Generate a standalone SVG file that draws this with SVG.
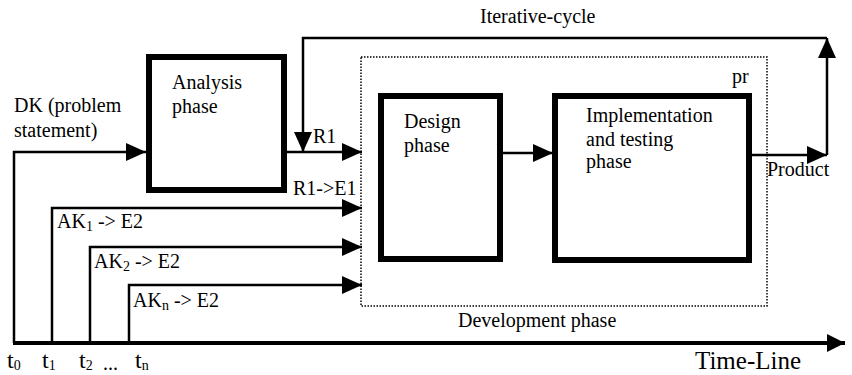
<svg xmlns="http://www.w3.org/2000/svg" width="852" height="375" viewBox="0 0 852 375">
<style>
text{font-family:"Liberation Serif","Times New Roman",serif;font-size:20px;fill:#000}
.box{fill:none;stroke:#000;stroke-width:6}
.dot{fill:none;stroke:#000;stroke-width:1.5;stroke-dasharray:1.5 1.5}
.c{fill:none;stroke:#000;stroke-width:2.5}
.tl{fill:none;stroke:#000;stroke-width:4}
.big{font-size:24px}
.sub{font-size:14px}
</style>
<defs>
<marker id="a" markerUnits="userSpaceOnUse" markerWidth="21" markerHeight="19" refX="20" refY="9" orient="auto" viewBox="0 0 21 19">
<path d="M0,0 L20,9 L0,18 z" fill="#000"/>
</marker>
<marker id="at" markerUnits="userSpaceOnUse" markerWidth="19" markerHeight="19" refX="18" refY="9" orient="auto" viewBox="0 0 19 19">
<path d="M0,0 L18,9 L0,18 z" fill="#000"/>
</marker>
</defs>

<g id="development-phase">
<rect class="dot" x="361" y="57" width="406" height="249"/>
<text x="732" y="83">pr</text>
<text x="458" y="327">Development phase</text>
</g>

<g id="analysis">
<rect class="box" x="149" y="57" width="135" height="133"/>
<text x="172" y="89">Analysis</text>
<text x="172" y="113">phase</text>
</g>

<g id="design">
<rect class="box" x="381" y="96" width="119" height="163"/>
<text x="404" y="128">Design</text>
<text x="404" y="152">phase</text>
</g>

<g id="implementation">
<rect class="box" x="555" y="96" width="194" height="164"/>
<text x="586" y="122">Implementation</text>
<text x="586" y="146">and testing</text>
<text x="586" y="168">phase</text>
</g>

<g id="connectors">
<path class="tl" d="M13,343 H845" marker-end="url(#at)"/>
<path class="c" d="M14,343 V152 H146" marker-end="url(#a)"/>
<path class="c" d="M52,343 V208 H362" marker-end="url(#a)"/>
<path class="c" d="M90,343 V247 H362" marker-end="url(#a)"/>
<path class="c" d="M129,343 V285 H362" marker-end="url(#a)"/>
<path class="c" d="M287,152 H362" marker-end="url(#a)"/>
<path class="c" d="M503,153 H553" marker-end="url(#a)"/>
<path class="c" d="M752,155 H827" marker-end="url(#a)"/>
<path class="c" d="M827,155 V38" marker-end="url(#a)"/>
<path class="c" d="M827,38 H303 V152" marker-end="url(#a)"/>
</g>

<g id="labels">
<text x="480" y="23">Iterative-cycle</text>
<text x="14" y="112">DK (problem</text>
<text x="14" y="137">statement)</text>
<text x="313" y="143">R1</text>
<text x="293" y="195">R1-&gt;E1</text>
<text x="767" y="176">Product</text>
<text x="57" y="228">AK<tspan class="sub" dy="3">1</tspan><tspan dy="-3"> -&gt; E2</tspan></text>
<text x="94" y="268">AK<tspan class="sub" dy="3">2</tspan><tspan dy="-3"> -&gt; E2</tspan></text>
<text x="133" y="307">AK<tspan class="sub" dy="3">n</tspan><tspan dy="-3"> -&gt; E2</tspan></text>
<text class="big" x="7" y="368">t<tspan class="sub" dy="2">0</tspan></text>
<text class="big" x="42" y="368">t<tspan class="sub" dy="2">1</tspan></text>
<text class="big" x="79" y="368">t<tspan class="sub" dy="2">2</tspan></text>
<text x="103" y="370">...</text>
<text class="big" x="135" y="368">t<tspan class="sub" dy="2">n</tspan></text>
<text x="695" y="369" style="font-size:25px">Time-Line</text>
</g>
</svg>
